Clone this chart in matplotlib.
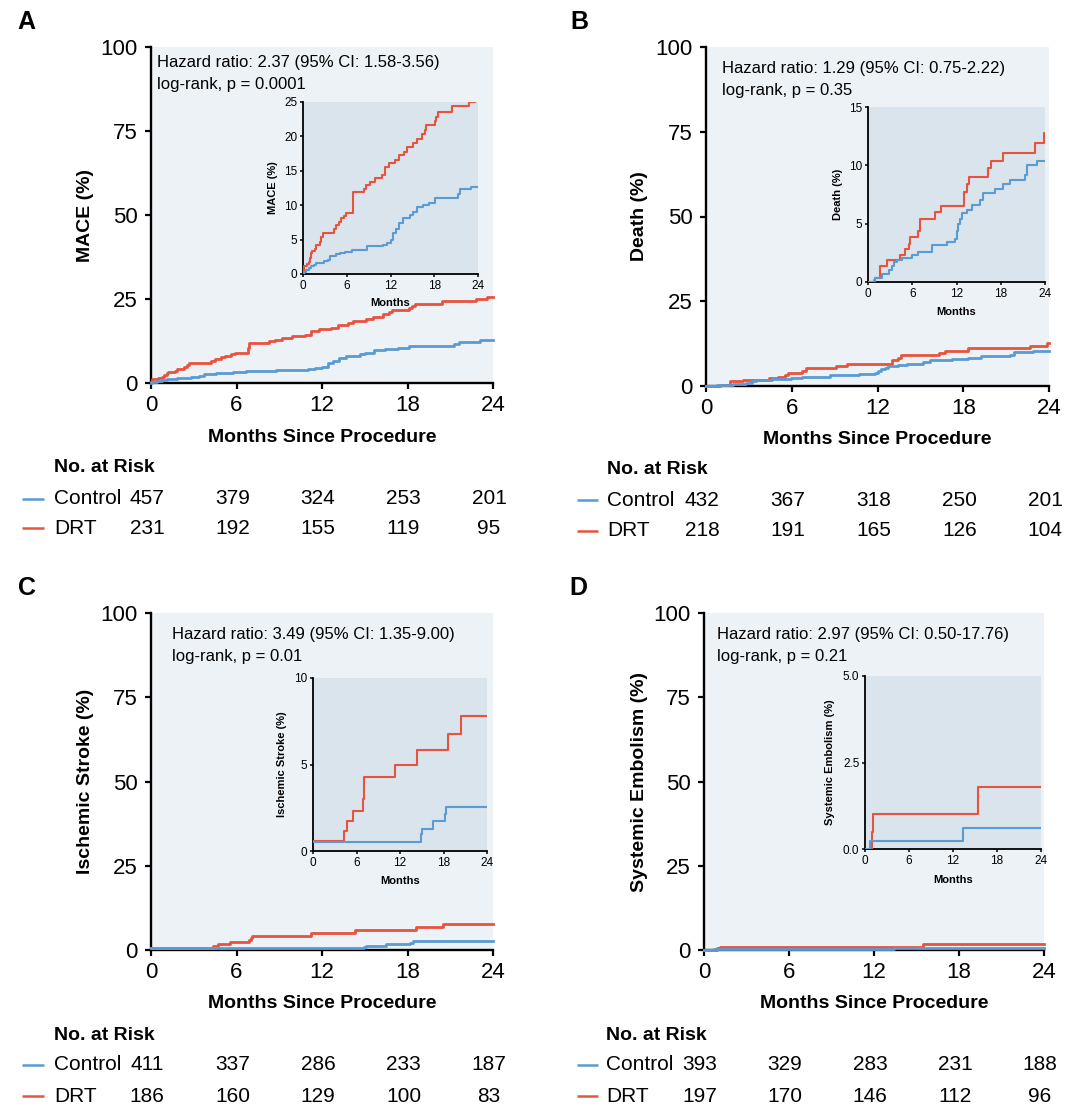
#!/usr/bin/env python

# imports
import matplotlib
matplotlib.use('Agg')
import matplotlib.pyplot as plt
from matplotlib.lines import Line2D
from matplotlib.transforms import blended_transform_factory, offset_copy

plt.rcParams['font.family'] = ['Liberation Sans', 'DejaVu Sans']

RED = '#e8533e'
BLUE = '#5b9bd3'
BG = '#edf2f7'
INSET_BG = '#d9e4ed'

months = [0, 6, 12, 18, 24]

# curves: months since procedure, cumulative incidence (%)
mace_ctrl_t = [0, 0.09, 0.41, 0.77, 1.09, 1.46, 1.82, 2.82, 3.37, 3.73,
               4.55, 5.1, 5.78, 6.7, 8.74, 11.02, 11.48, 12.02, 12.39, 12.75,
               13.21, 13.66, 14.66, 15.03, 15.66, 16.39, 17.3, 18.08, 21.27, 21.58,
               23.09, 24]
mace_ctrl_y = [0, 0.3, 0.6, 0.8, 1.1, 1.3, 1.6, 1.9, 2.1, 2.6,
               2.9, 3.1, 3.2, 3.5, 4.0, 4.2, 4.5, 4.9, 5.9, 6.6,
               7.4, 8.1, 8.6, 9.0, 9.8, 10.0, 10.3, 11.1, 11.6, 12.3,
               12.7, 12.7]
mace_drt_t = [0, 0.1, 0.5, 0.8, 0.9, 1.1, 1.2, 1.7, 1.8, 2.3,
              2.5, 2.7, 4.2, 4.5, 4.9, 5.2, 5.6, 5.9, 6.8, 6.9,
              8.3, 8.7, 9.2, 9.9, 10.8, 11.2, 11.8, 12.6, 13.1, 13.8,
              14.2, 15.1, 15.6, 16.3, 16.7, 16.9, 18.1, 18.3, 18.5, 20.4,
              22.8, 23.6, 24]
mace_drt_y = [0.3, 1.1, 1.5, 1.8, 2.3, 3.0, 3.3, 3.7, 4.2, 4.7,
              5.4, 6.0, 6.6, 7.1, 7.6, 8.1, 8.5, 8.9, 10.5, 11.9,
              12.4, 12.9, 13.4, 13.9, 14.4, 15.5, 16.1, 16.5, 17.3, 17.8,
              18.4, 19.0, 19.6, 20.4, 21.0, 21.6, 22.2, 22.8, 23.6, 24.4,
              25.0, 25.7, 25.7]

death_ctrl_t = [0, 0.77, 0.99, 1.89, 2.8, 3.25, 3.47, 3.92, 4.6, 5.95,
                6.72, 8.66, 10.69, 11.82, 12.04, 12.27, 12.49, 12.72, 13.4, 14.07,
                15.2, 15.65, 17.23, 18.36, 19.26, 21.29, 21.52, 22.87, 24]
death_ctrl_y = [0, 0.2, 0.35, 0.7, 1.0, 1.4, 1.7, 1.9, 2.1, 2.35,
                2.6, 3.2, 3.4, 3.7, 4.4, 5.0, 5.4, 5.9, 6.2, 6.6,
                7.0, 7.6, 8.0, 8.4, 8.75, 9.2, 10.0, 10.4, 10.4]
death_drt_t = [0, 0.99, 1.67, 2.57, 4.38, 5.05, 5.5, 5.73, 6.72, 6.99,
               9.11, 9.88, 13.04, 13.4, 13.67, 16.33, 16.69, 18.36, 22.64, 23.86, 24]
death_drt_y = [0, 0.35, 1.4, 1.9, 2.3, 2.8, 3.3, 3.9, 4.4, 5.4,
               6.0, 6.5, 7.7, 8.4, 9.0, 9.8, 10.4, 11.1, 11.9, 12.8, 12.8]

stroke_ctrl_t = [0, 14.94, 15.08, 16.5, 18.16, 18.39, 24]
stroke_ctrl_y = [0.52, 1.0, 1.3, 1.74, 2.13, 2.55, 2.55]
stroke_drt_t = [0, 4.32, 4.69, 5.52, 6.9, 7.0, 7.08, 11.26, 14.34, 18.62, 20.46, 24]
stroke_drt_y = [0.58, 1.16, 1.74, 2.32, 2.98, 3.6, 4.29, 5.0, 5.84, 6.77, 7.81, 7.81]

emb_ctrl_t = [0, 0.68, 13.4, 24]
emb_ctrl_y = [0, 0.24, 0.62, 0.62]
emb_drt_t = [0, 0.9, 1.14, 15.45, 24]
emb_drt_y = [0, 0.5, 1.0, 1.8, 1.8]

# numbers at risk at 0, 6, 12, 18, 24 months
mace_ctrl_n = [457, 379, 324, 253, 201]
mace_drt_n = [231, 192, 155, 119, 95]
death_ctrl_n = [432, 367, 318, 250, 201]
death_drt_n = [218, 191, 165, 126, 104]
stroke_ctrl_n = [411, 337, 286, 233, 187]
stroke_drt_n = [186, 160, 129, 100, 83]
emb_ctrl_n = [393, 329, 283, 231, 188]
emb_drt_n = [197, 170, 146, 112, 96]

W, H = 1080, 1115


# pixel box (top-left origin) -> figure fraction rect
def rect(x0, y0, x1, y1):
    return [x0 / W, 1 - y1 / H, (x1 - x0) / W, (y1 - y0) / H]


def fy(y):
    return 1 - y / H


panels = [
    dict(letter='A', ylabel='MACE (%)',
         hr='Hazard ratio: 2.37 (95% CI: 1.58-3.56)', lr='log-rank, p = 0.0001',
         ct=mace_ctrl_t, cy=mace_ctrl_y, dt=mace_drt_t, dy=mace_drt_y,
         cn=mace_ctrl_n, dn=mace_drt_n,
         iticks=[0, 5, 10, 15, 20, 25], ilabels=['0', '5', '10', '15', '20', '25'],
         main=(151, 47, 493, 383), inset=(303, 102, 478, 274), letter_xy=(26, 22),
         text_xy=(157, 62), rows=(468, 499, 528), leg=(22, 44), name_x=54,
         ylab_x=85, xlab_y=437, iylab_x=273, ixlab_y=303),
    dict(letter='B', ylabel='Death (%)',
         hr='Hazard ratio: 1.29 (95% CI: 0.75-2.22)', lr='log-rank, p = 0.35',
         ct=death_ctrl_t, cy=death_ctrl_y, dt=death_drt_t, dy=death_drt_y,
         cn=death_ctrl_n, dn=death_drt_n,
         iticks=[0, 5, 10, 15], ilabels=['0', '5', '10', '15'],
         main=(706, 47, 1049, 386), inset=(868, 107, 1045, 282), letter_xy=(579, 22),
         text_xy=(722, 68), rows=(470, 500, 531), leg=(577, 598), name_x=607,
         ylab_x=640, xlab_y=440, iylab_x=838, ixlab_y=312),
    dict(letter='C', ylabel='Ischemic Stroke (%)',
         hr='Hazard ratio: 3.49 (95% CI: 1.35-9.00)', lr='log-rank, p = 0.01',
         ct=stroke_ctrl_t, cy=stroke_ctrl_y, dt=stroke_drt_t, dy=stroke_drt_y,
         cn=stroke_ctrl_n, dn=stroke_drt_n,
         iticks=[0, 5, 10], ilabels=['0', '5', '10'],
         main=(151, 613, 493, 950), inset=(313, 678, 487, 851), letter_xy=(27, 588),
         text_xy=(172, 635), rows=(1035, 1065, 1096), leg=(22, 44), name_x=54,
         ylab_x=85, xlab_y=1003, iylab_x=282, ixlab_y=881),
    dict(letter='D', ylabel='Systemic Embolism (%)',
         hr='Hazard ratio: 2.97 (95% CI: 0.50-17.76)', lr='log-rank, p = 0.21',
         ct=emb_ctrl_t, cy=emb_ctrl_y, dt=emb_drt_t, dy=emb_drt_y,
         cn=emb_ctrl_n, dn=emb_drt_n,
         iticks=[0, 2.5, 5], ilabels=['0.0', '2.5', '5.0'],
         main=(704, 613, 1044, 950), inset=(865, 676, 1041, 849), letter_xy=(578, 588),
         text_xy=(717, 635), rows=(1035, 1065, 1096), leg=(577, 598), name_x=606,
         ylab_x=640, xlab_y=1003, iylab_x=830, ixlab_y=880),
]


def styleAxes(ax, lw):
    ax.spines['top'].set_visible(False)
    ax.spines['right'].set_visible(False)
    ax.spines['left'].set_linewidth(lw)
    ax.spines['bottom'].set_linewidth(lw)


def drawPanel(fig, p):
    x0, y0, x1, y1 = p['main']
    ax = fig.add_axes(rect(*p['main']))
    ax.set_facecolor(BG)
    ax.step(p['dt'], p['dy'], where='post', color=RED, lw=2.0, clip_on=False, zorder=3)
    ax.step(p['ct'], p['cy'], where='post', color=BLUE, lw=2.0, clip_on=False, zorder=3)
    ax.set_xlim(0, 24)
    ax.set_ylim(0, 100)
    ax.set_xticks(months)
    ax.set_yticks([0, 25, 50, 75, 100])
    styleAxes(ax, 1.7)
    ax.tick_params(length=4.5, width=1.6, labelsize=16)
    ax.tick_params(axis='x', pad=4)
    ax.tick_params(axis='y', pad=5)
    ax.set_ylabel(p['ylabel'], fontsize=14, fontweight='bold', ha='center', va='center',
                  rotation_mode='default')
    ax.yaxis.set_label_coords(p['ylab_x'] / W, fy((y0 + y1) / 2), transform=fig.transFigure)
    ax.set_xlabel('Months Since Procedure', fontsize=14, fontweight='bold', va='center')
    ax.xaxis.set_label_coords((x0 + x1) / 2 / W, fy(p['xlab_y']), transform=fig.transFigure)

    # hazard ratio text
    tx, ty = p['text_xy']
    fig.text(tx / W, fy(ty), p['hr'], fontsize=12, va='center')
    fig.text(tx / W, fy(ty + 22), p['lr'], fontsize=12, va='center')

    # panel letter
    lx, ly = p['letter_xy']
    fig.text(lx / W, fy(ly), p['letter'], fontsize=18, fontweight='bold', ha='center', va='center')

    # inset zoom
    ins = fig.add_axes(rect(*p['inset']))
    ins.set_facecolor(INSET_BG)
    ins.step(p['dt'], p['dy'], where='post', color=RED, lw=1.5, zorder=3)
    ins.step(p['ct'], p['cy'], where='post', color=BLUE, lw=1.5, zorder=3)
    ins.set_xlim(0, 24)
    ins.set_ylim(0, p['iticks'][-1])
    ins.set_xticks(months)
    ins.set_yticks(p['iticks'])
    ins.set_yticklabels(p['ilabels'])
    styleAxes(ins, 1.3)
    ins.tick_params(length=2.5, width=1.1, labelsize=8.5, pad=1.5)
    ins.set_ylabel(p['ylabel'], fontsize=8, fontweight='bold', ha='center', va='center',
                   rotation_mode='default')
    iy0, iy1 = p['inset'][1], p['inset'][3]
    ins.yaxis.set_label_coords(p['iylab_x'] / W, fy((iy0 + iy1) / 2), transform=fig.transFigure)
    ins.set_xlabel('Months', fontsize=8, fontweight='bold', va='center')
    ix0, ix1 = p['inset'][0], p['inset'][2]
    ins.xaxis.set_label_coords((ix0 + ix1) / 2 / W, fy(p['ixlab_y']), transform=fig.transFigure)

    # numbers at risk table
    rows = p['rows']
    fig.text(p['name_x'] / W, fy(rows[0]), 'No. at Risk', fontsize=14, fontweight='bold', va='center')
    trans = offset_copy(blended_transform_factory(ax.transData, fig.transFigure),
                        fig=fig, x=-4, y=0, units='dots')
    for row_y, name, color, counts in [(rows[1], 'Control', BLUE, p['cn']),
                                       (rows[2], 'DRT', RED, p['dn'])]:
        fig.add_artist(Line2D([p['leg'][0] / W, p['leg'][1] / W], [fy(row_y), fy(row_y)],
                              color=color, lw=1.8, solid_capstyle='butt',
                              transform=fig.transFigure))
        fig.text(p['name_x'] / W, fy(row_y), name, fontsize=15, va='center')
        for m, n in zip(months, counts):
            ax.text(m, fy(row_y), str(n), transform=trans, fontsize=15,
                    ha='center', va='center', clip_on=False)


fig = plt.figure(figsize=(10.8, 11.15), dpi=100)
for p in panels:
    drawPanel(fig, p)

fig.savefig('out.png', dpi=100, facecolor='white')
